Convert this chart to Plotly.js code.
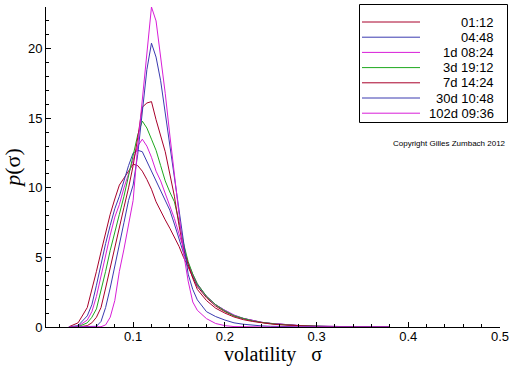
<!DOCTYPE html>
<html>
<head>
<meta charset="utf-8">
<script src="https://cdn.plot.ly/plotly-3.0.1.min.js"></script>
<style>html,body{margin:0;padding:0;background:#fff;}#chart{width:512px;height:366px;}</style>
</head>
<body>
<div id="chart"></div>
<script>
// volatility grid (sigma)
var sigma = [0.03,0.04,0.05,0.055,0.06,0.065,0.07,0.075,0.08,0.085,0.09,0.095,0.10,0.105,0.11,0.115,0.12,0.125,0.13,0.135,0.14,0.145,0.15,0.155,0.16,0.165,0.17,0.18,0.19,0.20,0.21,0.22,0.23,0.24,0.25,0.26,0.28,0.30,0.32,0.35,0.38];

var p_0112  = [0.02,0.3,1.4,2.6,4.0,5.4,6.8,8.1,9.2,10.2,10.7,11.2,11.7,11.6,11.2,10.6,9.9,9.0,8.3,7.7,7.1,6.5,5.8,5.0,4.3,3.5,2.9,2.1,1.5,1.1,0.8,0.6,0.45,0.33,0.25,0.19,0.1,0.05,0.03,0.01,0.005];
var p_0448  = [0.01,0.1,0.8,1.6,3.0,4.6,6.0,7.3,8.5,9.4,10.6,11.6,12.5,12.7,12.6,11.9,11.3,10.5,9.8,9.1,8.4,7.4,6.4,5.3,4.5,3.7,3.0,2.2,1.6,1.2,0.85,0.62,0.46,0.34,0.26,0.2,0.11,0.06,0.03,0.01,0];
var p_1d    = [0,0.05,0.5,1.1,2.2,3.7,5.2,6.6,7.9,8.8,10.0,11.0,12.1,13.0,13.5,13.0,12.2,11.2,10.5,9.6,8.8,7.8,6.7,5.6,4.6,3.8,3.1,2.2,1.6,1.2,0.85,0.62,0.46,0.34,0.26,0.2,0.11,0.06,0.03,0.01,0];
var p_3d    = [0,0.02,0.3,0.7,1.3,2.6,4.0,5.5,6.9,8.1,9.4,10.8,12.2,13.8,14.8,14.3,13.5,12.7,11.6,10.5,9.7,9.0,7.6,6.0,4.7,3.8,3.1,2.2,1.6,1.15,0.8,0.6,0.44,0.33,0.25,0.18,0.1,0.05,0.02,0.01,0];
var p_7d    = [0,0,0.1,0.3,0.7,1.4,2.8,4.3,5.8,7.3,8.6,10.0,11.6,13.6,15.8,16.1,16.2,14.9,13.8,12.6,11.0,9.4,7.3,5.6,4.5,3.5,2.7,1.9,1.35,1.0,0.72,0.53,0.4,0.3,0.22,0.16,0.09,0.04,0.02,0.01,0];
var p_30d   = [0,0,0,0.02,0.05,0.4,1.4,2.8,4.3,5.8,7.5,9.1,10.2,12.4,15.6,18.5,20.4,19.4,17.7,15.4,13.0,10.6,8.2,5.9,3.8,2.7,1.95,1.1,0.75,0.5,0.3,0.2,0.13,0.08,0.05,0.03,0.02,0.01,0.005,0,0];
var p_102d  = [0,0,0,0,0,0.02,0.15,0.7,1.9,4.0,5.6,7.3,9.1,13.0,16.5,19.5,23.0,22.0,19.5,16.8,13.8,11.0,8.0,5.3,3.3,1.8,1.2,0.6,0.25,0.1,0.03,0.01,0,0,0,0,0,0,0,0,0];

var seriesNames = ["01:12","04:48","1d 08:24","3d 19:12","7d 14:24","30d 10:48","102d 09:36"];
var seriesColors = ["#a8002a","#3a3ab0","#d81ed8","#1ea81e","#a8002a","#3a3ab0","#d81ed8"];
var seriesValues = [p_0112,p_0448,p_1d,p_3d,p_7d,p_30d,p_102d];

var xTicks = [0.1,0.2,0.3,0.4,0.5];
var yTicks = [0,5,10,15,20];

var traces = seriesValues.map(function(v,i){
  return {x: sigma, y: v, type:'scatter', mode:'lines', name: seriesNames[i],
          line:{color: seriesColors[i], width:1}, showlegend:false, hoverinfo:'skip'};
});

// plot area in pixels
var L=46, R=12, T=7, B=39, W=512, H=366;
var pw = W-L-R, ph = H-T-B;
function px2x(p){return (p-L)/pw;}
function py2y(p){return (H-B-p)/ph;}

var shapes = [{type:'rect', xref:'paper', yref:'paper', x0:px2x(359.5), x1:px2x(507.5), y0:py2y(122.5), y1:py2y(4.5),
  line:{color:'#000', width:1}, fillcolor:'#fff', layer:'above'}];
var annotations = [];
seriesNames.forEach(function(n,i){
  var yc = 22 + i*15.2;
  shapes.push({type:'line', xref:'paper', yref:'paper', x0:px2x(362), x1:px2x(420), y0:py2y(yc), y1:py2y(yc),
    line:{color:seriesColors[i], width:1}, layer:'above'});
  annotations.push({xref:'paper', yref:'paper', x:px2x(496), y:py2y(yc), xanchor:'right', yanchor:'middle',
    text:n, showarrow:false, font:{family:'Liberation Sans, Arial, sans-serif', size:13, color:'#000'}});
});
annotations.push({xref:'paper', yref:'paper', x:px2x(508), y:py2y(143), xanchor:'right', yanchor:'middle',
  text:'Copyright Gilles Zumbach 2012', showarrow:false, font:{family:'Liberation Sans, Arial, sans-serif', size:8, color:'#000'}});

var layout = {
  width:W, height:H,
  margin:{l:L, r:R, t:T, b:B, pad:0},
  paper_bgcolor:'#fff', plot_bgcolor:'#fff',
  showlegend:false,
  font:{family:'Liberation Sans, Arial, sans-serif', size:13, color:'#000'},
  xaxis:{range:[0.005,0.5], tickvals:xTicks, ticktext:xTicks.map(String), ticks:'inside', ticklen:5, tickcolor:'#000', tickwidth:1,
    showline:true, linecolor:'#000', linewidth:1, showgrid:false, zeroline:false,
    minor:{dtick:0.02, tick0:0, ticks:'inside', ticklen:3, tickcolor:'#000', showgrid:false},
    tickfont:{size:13}, ticklabelstandoff:-3,
    title:{text:'volatility\u00a0\u00a0 σ', font:{family:'Liberation Serif, Times New Roman, serif', size:20}, standoff:5}},
  yaxis:{range:[0,23], tickvals:yTicks, ticks:'inside', ticklen:5, tickcolor:'#000', tickwidth:1,
    showline:true, linecolor:'#000', linewidth:1, showgrid:false, zeroline:false,
    minor:{dtick:1, tick0:0, ticks:'inside', ticklen:3, tickcolor:'#000', showgrid:false},
    tickfont:{size:13},
    title:{text:'<i>p</i>(σ)', font:{family:'Liberation Serif, Times New Roman, serif', size:22}, standoff:10}},
  shapes:shapes,
  annotations:annotations
};

Plotly.newPlot('chart', traces, layout, {staticPlot:true, displayModeBar:false});
</script>
</body>
</html>
